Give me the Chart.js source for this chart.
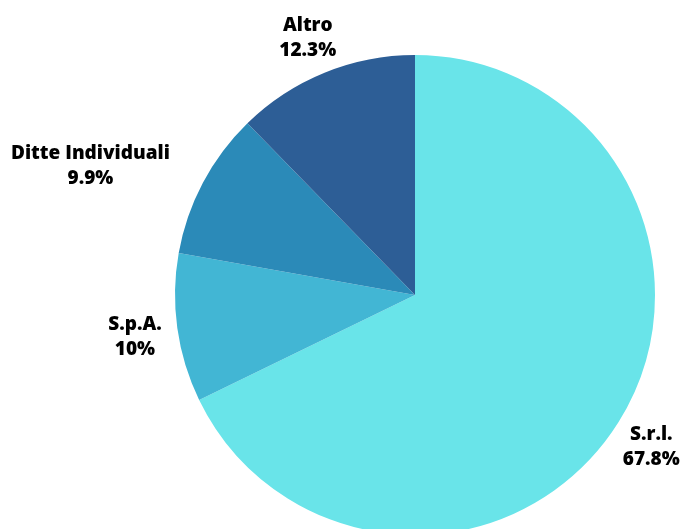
<!DOCTYPE html><html lang="it"><meta charset="utf-8">
<title>Forma giuridica</title>
<script src="https://cdn.jsdelivr.net/npm/chart.js@4.4.1"></script>
<style>
html,body{margin:0;background:#fff;overflow:hidden;width:683px;height:529px}
canvas{display:block}
</style>
<body>
<canvas id="chart" width="683" height="560"></canvas>
<script>
const labels  = ['S.r.l.', 'S.p.A.', 'Ditte Individuali', 'Altro'];
const values  = [67.8, 10, 9.9, 12.3];
const valText = ['67.8%', '10%', '9.9%', '12.3%'];
const colors  = ['#69e4e9', '#42b6d4', '#2b8ab8', '#2d5e96'];

// etichette esterne su due righe (nome + percentuale)
const outLabels = {
  id:'outLabels',
  afterDatasetsDraw(chart){
    const c = chart.ctx;
    const meta = chart.getDatasetMeta(0);
    c.save();
    c.font = '800 19px "Open Sans"';
    c.fillStyle = '#000';
    c.textAlign = 'center';
    c.textBaseline = 'middle';
    meta.data.forEach((arc,i)=>{
      const {x,y,startAngle,endAngle,outerRadius} = arc.getProps(['x','y','startAngle','endAngle','outerRadius'],true);
      const mid = (startAngle+endAngle)/2;
      const cos = Math.cos(mid), sin = Math.sin(mid);
      const w = Math.max(c.measureText(labels[i]).width, c.measureText(valText[i]).width);
      const h = 50;
      const r = outerRadius + 16;
      const f = w > 100 ? 1.4 : (cos > 0.5 ? 0.8 : 1);   // le etichette larghe si spostano di più
      const cx = x + r*cos + (w/2)*cos*f;
      const cy = y + r*sin + (h/2)*sin + 3;
      c.fillText(labels[i], cx, cy-12.5);
      c.fillText(valText[i], cx, cy+12.5);
    });
    c.restore();
  }
};

new Chart(document.getElementById('chart'),{
  type:'pie',
  data:{labels, datasets:[{data:values, backgroundColor:colors, borderWidth:0}]},
  options:{
    responsive:false,
    animation:false,
    layout:{padding:{top:55,bottom:25,left:175,right:28}},
    plugins:{legend:{display:false},tooltip:{enabled:false}}
  },
  plugins:[outLabels]
});
</script>
</body></html>
